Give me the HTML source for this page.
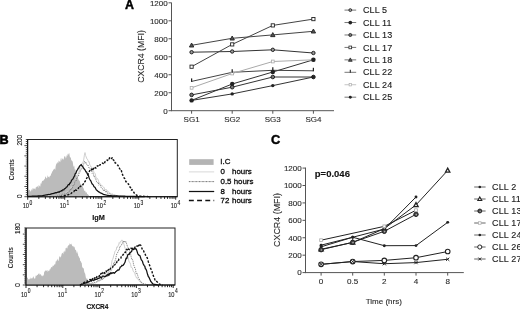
<!DOCTYPE html>
<html><head><meta charset="utf-8"><style>
html,body{margin:0;padding:0;background:#fff;}
body{width:520px;height:309px;overflow:hidden;}
svg{display:block;font-family:"Liberation Sans", sans-serif;will-change:transform;}
text{stroke:#111;stroke-width:0.12px;}
</style></head><body>
<svg width="520" height="309" viewBox="0 0 520 309">
<rect width="520" height="309" fill="#fff"/>
<text x="125.0" y="8.9" font-size="12.4" text-anchor="start" font-weight="bold" fill="#000" style="stroke:#000;stroke-width:0.45px">A</text>
<line x1="171.5" y1="2.6" x2="171.5" y2="111.2" stroke="#555" stroke-width="1" />
<line x1="171.5" y1="110.7" x2="334" y2="110.7" stroke="#555" stroke-width="1" />
<line x1="168.5" y1="110.7" x2="171.5" y2="110.7" stroke="#555" stroke-width="1" />
<text x="167.7" y="113.55" font-size="8.0" text-anchor="end" font-weight="normal" fill="#333" >0</text>
<line x1="168.5" y1="92.72" x2="171.5" y2="92.72" stroke="#555" stroke-width="1" />
<text x="167.7" y="95.57" font-size="8.0" text-anchor="end" font-weight="normal" fill="#333" >200</text>
<line x1="168.5" y1="74.74000000000001" x2="171.5" y2="74.74000000000001" stroke="#555" stroke-width="1" />
<text x="167.7" y="77.59" font-size="8.0" text-anchor="end" font-weight="normal" fill="#333" >400</text>
<line x1="168.5" y1="56.760000000000005" x2="171.5" y2="56.760000000000005" stroke="#555" stroke-width="1" />
<text x="167.7" y="59.61000000000001" font-size="8.0" text-anchor="end" font-weight="normal" fill="#333" >600</text>
<line x1="168.5" y1="38.78" x2="171.5" y2="38.78" stroke="#555" stroke-width="1" />
<text x="167.7" y="41.63" font-size="8.0" text-anchor="end" font-weight="normal" fill="#333" >800</text>
<line x1="168.5" y1="20.80000000000001" x2="171.5" y2="20.80000000000001" stroke="#555" stroke-width="1" />
<text x="167.7" y="23.650000000000013" font-size="8.0" text-anchor="end" font-weight="normal" fill="#333" >1000</text>
<line x1="168.5" y1="2.8200000000000074" x2="171.5" y2="2.8200000000000074" stroke="#555" stroke-width="1" />
<text x="167.7" y="5.670000000000007" font-size="8.0" text-anchor="end" font-weight="normal" fill="#333" >1200</text>
<line x1="191.6" y1="110.7" x2="191.6" y2="113.7" stroke="#555" stroke-width="1" />
<text x="191.6" y="121.9" font-size="8.0" text-anchor="middle" font-weight="normal" fill="#333" >SG1</text>
<line x1="232.2" y1="110.7" x2="232.2" y2="113.7" stroke="#555" stroke-width="1" />
<text x="232.2" y="121.9" font-size="8.0" text-anchor="middle" font-weight="normal" fill="#333" >SG2</text>
<line x1="272.8" y1="110.7" x2="272.8" y2="113.7" stroke="#555" stroke-width="1" />
<text x="272.8" y="121.9" font-size="8.0" text-anchor="middle" font-weight="normal" fill="#333" >SG3</text>
<line x1="313.4" y1="110.7" x2="313.4" y2="113.7" stroke="#555" stroke-width="1" />
<text x="313.4" y="121.9" font-size="8.0" text-anchor="middle" font-weight="normal" fill="#333" >SG4</text>
<text x="0" y="0" font-size="8.7" text-anchor="middle" font-weight="normal" fill="#333" transform="translate(144.0,56.5) rotate(-90)">CXCR4 (MFI)</text>
<polyline points="191.60,52.20 232.20,51.50 272.80,49.80 313.40,53.00" fill="none" stroke="#333" stroke-width="1.0" />
<polyline points="191.60,100.40 232.20,84.00 272.80,72.00 313.40,59.80" fill="none" stroke="#333" stroke-width="1.0" />
<polyline points="191.60,94.90 232.20,87.20 272.80,77.00 313.40,77.00" fill="none" stroke="#333" stroke-width="1.0" />
<polyline points="191.60,66.70 232.20,44.40 272.80,25.40 313.40,19.10" fill="none" stroke="#444" stroke-width="1.0" />
<polyline points="191.60,45.30 232.20,38.30 272.80,34.90 313.40,31.30" fill="none" stroke="#444" stroke-width="1.0" />
<polyline points="191.60,81.40 232.20,72.30 272.80,70.30 313.40,70.80" fill="none" stroke="#444" stroke-width="1.0" />
<polyline points="191.60,87.80 232.20,73.50 272.80,61.50 313.40,59.80" fill="none" stroke="#aaa" stroke-width="1.0" />
<polyline points="191.60,100.40 232.20,93.90 272.80,85.60 313.40,77.00" fill="none" stroke="#333" stroke-width="1.0" />
<rect x="190.2" y="86.39999999999999" width="2.8" height="2.8" fill="#fff" stroke="#aaa" stroke-width="0.8"/>
<rect x="230.79999999999998" y="72.1" width="2.8" height="2.8" fill="#fff" stroke="#aaa" stroke-width="0.8"/>
<rect x="271.40000000000003" y="60.1" width="2.8" height="2.8" fill="#fff" stroke="#aaa" stroke-width="0.8"/>
<rect x="312.0" y="58.4" width="2.8" height="2.8" fill="#fff" stroke="#aaa" stroke-width="0.8"/>
<circle cx="191.6" cy="52.2" r="1.7" fill="#999" stroke="#222" stroke-width="1.0"/>
<circle cx="232.2" cy="51.5" r="1.7" fill="#999" stroke="#222" stroke-width="1.0"/>
<circle cx="272.8" cy="49.8" r="1.7" fill="#999" stroke="#222" stroke-width="1.0"/>
<circle cx="313.4" cy="53.0" r="1.7" fill="#999" stroke="#222" stroke-width="1.0"/>
<circle cx="191.6" cy="100.4" r="2.2" fill="#222"/>
<circle cx="232.2" cy="84.0" r="2.2" fill="#222"/>
<circle cx="272.8" cy="72.0" r="2.2" fill="#222"/>
<circle cx="313.4" cy="59.8" r="2.2" fill="#222"/>
<circle cx="191.6" cy="94.9" r="1.8" fill="#777" stroke="#222" stroke-width="1.0"/>
<circle cx="232.2" cy="87.2" r="1.8" fill="#777" stroke="#222" stroke-width="1.0"/>
<circle cx="272.8" cy="77.0" r="1.8" fill="#777" stroke="#222" stroke-width="1.0"/>
<circle cx="313.4" cy="77.0" r="1.8" fill="#777" stroke="#222" stroke-width="1.0"/>
<rect x="190.0" y="65.10000000000001" width="3.2" height="3.2" fill="#fff" stroke="#222" stroke-width="0.9"/>
<rect x="230.6" y="42.8" width="3.2" height="3.2" fill="#fff" stroke="#222" stroke-width="0.9"/>
<rect x="271.2" y="23.799999999999997" width="3.2" height="3.2" fill="#fff" stroke="#222" stroke-width="0.9"/>
<rect x="311.79999999999995" y="17.5" width="3.2" height="3.2" fill="#fff" stroke="#222" stroke-width="0.9"/>
<path d="M191.6,43.0 L193.785,47.025 L189.415,47.025 Z" fill="#555" stroke="#222" stroke-width="0.9"/>
<path d="M232.2,36.0 L234.385,40.025 L230.015,40.025 Z" fill="#555" stroke="#222" stroke-width="0.9"/>
<path d="M272.8,32.6 L274.985,36.625 L270.615,36.625 Z" fill="#555" stroke="#222" stroke-width="0.9"/>
<path d="M313.4,29.0 L315.585,33.025 L311.215,33.025 Z" fill="#555" stroke="#222" stroke-width="0.9"/>
<line x1="191.6" y1="78.4" x2="191.6" y2="81.9" stroke="#222" stroke-width="1.25"/>
<line x1="232.2" y1="69.3" x2="232.2" y2="72.8" stroke="#222" stroke-width="1.25"/>
<line x1="272.8" y1="67.3" x2="272.8" y2="70.8" stroke="#222" stroke-width="1.25"/>
<line x1="313.4" y1="67.8" x2="313.4" y2="71.3" stroke="#222" stroke-width="1.25"/>
<circle cx="191.6" cy="100.4" r="1.7" fill="#222"/>
<circle cx="232.2" cy="93.9" r="1.7" fill="#222"/>
<circle cx="272.8" cy="85.6" r="1.7" fill="#222"/>
<circle cx="313.4" cy="77.0" r="1.7" fill="#222"/>
<line x1="344.5" y1="10.1" x2="356.2" y2="10.1" stroke="#777" stroke-width="1" />
<circle cx="350.3" cy="10.1" r="1.4449999999999998" fill="#999" stroke="#222" stroke-width="0.85"/>
<text x="363" y="13.2" font-size="9.0" text-anchor="start" font-weight="normal" fill="#222" letter-spacing="0.1">CLL 5</text>
<line x1="344.5" y1="22.54" x2="356.2" y2="22.54" stroke="#777" stroke-width="1" />
<circle cx="350.3" cy="22.54" r="1.87" fill="#222"/>
<text x="363" y="25.64" font-size="9.0" text-anchor="start" font-weight="normal" fill="#222" letter-spacing="0.1">CLL 11</text>
<line x1="344.5" y1="34.98" x2="356.2" y2="34.98" stroke="#777" stroke-width="1" />
<circle cx="350.3" cy="34.98" r="1.53" fill="#777" stroke="#222" stroke-width="0.85"/>
<text x="363" y="38.08" font-size="9.0" text-anchor="start" font-weight="normal" fill="#222" letter-spacing="0.1">CLL 13</text>
<line x1="344.5" y1="47.42" x2="356.2" y2="47.42" stroke="#777" stroke-width="1" />
<rect x="348.94" y="46.06" width="2.72" height="2.72" fill="#fff" stroke="#222" stroke-width="0.765"/>
<text x="363" y="50.52" font-size="9.0" text-anchor="start" font-weight="normal" fill="#222" letter-spacing="0.1">CLL 17</text>
<line x1="344.5" y1="59.86" x2="356.2" y2="59.86" stroke="#777" stroke-width="1" />
<path d="M350.3,57.905 L352.15725000000003,61.32625 L348.44275,61.32625 Z" fill="#555" stroke="#222" stroke-width="0.765"/>
<text x="363" y="62.96" font-size="9.0" text-anchor="start" font-weight="normal" fill="#222" letter-spacing="0.1">CLL 18</text>
<line x1="344.5" y1="72.3" x2="356.2" y2="72.3" stroke="#777" stroke-width="1" />
<line x1="350.3" y1="69.75" x2="350.3" y2="72.725" stroke="#222" stroke-width="1.0625"/>
<text x="363" y="75.39999999999999" font-size="9.0" text-anchor="start" font-weight="normal" fill="#222" letter-spacing="0.1">CLL 22</text>
<line x1="344.5" y1="84.74" x2="356.2" y2="84.74" stroke="#c4c4c4" stroke-width="1" />
<rect x="349.11" y="83.55" width="2.38" height="2.38" fill="#fff" stroke="#aaa" stroke-width="0.68"/>
<text x="363" y="87.83999999999999" font-size="9.0" text-anchor="start" font-weight="normal" fill="#222" letter-spacing="0.1">CLL 24</text>
<line x1="344.5" y1="97.17999999999999" x2="356.2" y2="97.17999999999999" stroke="#777" stroke-width="1" />
<circle cx="350.3" cy="97.17999999999999" r="1.4449999999999998" fill="#222"/>
<text x="363" y="100.27999999999999" font-size="9.0" text-anchor="start" font-weight="normal" fill="#222" letter-spacing="0.1">CLL 25</text>
<text x="-0.6" y="143.7" font-size="12.6" text-anchor="start" font-weight="bold" fill="#000" style="stroke:#000;stroke-width:0.6px">B</text>
<rect x="27.6" y="139.5" width="149.70000000000002" height="57.19999999999999" fill="none" stroke="#222" stroke-width="1"/>
<path d="M27.70,191.23 L28.20,190.18 L28.70,190.65 L29.20,189.81 L29.70,189.65 L30.20,191.44 L30.70,191.56 L31.20,188.66 L31.70,190.57 L32.20,190.59 L32.70,187.80 L33.20,189.56 L33.70,187.94 L34.20,189.04 L34.70,188.14 L35.20,189.85 L35.70,187.66 L36.20,186.48 L36.70,187.61 L37.20,186.35 L37.70,186.24 L38.20,188.28 L38.70,185.11 L39.20,185.39 L39.70,186.16 L40.20,186.85 L40.70,182.95 L41.20,183.91 L41.70,182.32 L42.20,181.07 L42.70,181.12 L43.20,179.69 L43.70,181.19 L44.20,178.90 L44.70,179.58 L45.20,176.88 L45.70,176.37 L46.20,178.75 L46.70,177.86 L47.20,177.71 L47.70,174.89 L48.20,177.18 L48.70,176.59 L49.20,177.71 L49.70,176.18 L50.20,175.97 L50.70,175.40 L51.20,173.76 L51.70,173.14 L52.20,171.24 L52.70,171.51 L53.20,169.90 L53.70,169.57 L54.20,168.41 L54.70,169.06 L55.20,170.09 L55.70,166.04 L56.20,164.37 L56.70,163.35 L57.20,163.43 L57.70,161.76 L58.20,163.34 L58.70,160.44 L59.20,161.04 L59.70,161.77 L60.20,162.23 L60.70,158.72 L61.20,157.84 L61.70,161.11 L62.20,157.93 L62.70,159.16 L63.20,159.85 L63.70,158.90 L64.20,156.62 L64.70,155.83 L65.20,158.77 L65.70,156.12 L66.20,158.02 L66.70,154.98 L67.20,156.32 L67.70,153.90 L68.20,153.29 L68.70,154.98 L69.20,152.79 L69.70,156.02 L70.20,157.88 L70.70,156.72 L71.20,159.92 L71.70,160.42 L72.20,161.10 L72.70,161.81 L73.20,165.15 L73.70,167.12 L74.20,165.54 L74.70,169.62 L75.20,168.89 L75.70,171.00 L76.20,174.69 L76.70,175.61 L77.20,176.62 L77.70,177.37 L78.20,178.82 L78.70,180.04 L79.20,180.76 L79.70,180.44 L80.20,183.13 L80.70,184.40 L81.20,184.12 L81.70,186.80 L82.20,187.30 L82.70,185.34 L83.20,187.92 L83.70,188.56 L84.20,191.24 L84.70,190.46 L85.20,190.65 L85.70,192.81 L86.20,192.02 L86.70,192.70 L87.20,194.26 L87.70,194.04 L88.20,194.86 L88.70,195.28 L89.20,195.96 L89.70,196.40 L89.70,196.7 L27.70,196.7 Z" fill="#bbbbbb" stroke="none" stroke-width="1" stroke-linejoin="round"/>
<path d="M55.00,196.70 L55.60,196.53 L56.20,196.36 L56.80,196.23 L57.40,196.10 L58.00,195.87 L58.60,195.78 L59.20,195.66 L59.80,195.37 L60.40,194.96 L61.00,194.82 L61.60,194.66 L62.20,194.78 L62.80,194.27 L63.40,194.19 L64.00,194.01 L64.60,193.81 L65.20,193.42 L65.80,192.28 L66.40,192.07 L67.00,191.77 L67.60,191.45 L68.20,191.95 L68.80,191.06 L69.40,189.68 L70.00,188.66 L70.60,187.56 L71.20,186.75 L71.80,187.98 L72.40,185.64 L73.00,184.27 L73.60,183.49 L74.20,183.11 L74.80,181.17 L75.40,180.93 L76.00,177.61 L76.60,176.44 L77.20,175.88 L77.80,175.15 L78.40,172.28 L79.00,171.77 L79.60,169.64 L80.20,168.30 L80.80,167.55 L81.40,166.18 L82.00,164.12 L82.60,162.94 L83.20,161.78 L83.80,159.11 L84.40,155.17 L85.00,152.59 L85.60,155.58 L86.20,156.88 L86.80,158.75 L87.40,159.11 L88.00,160.42 L88.60,162.05 L89.20,161.72 L89.80,165.03 L90.40,165.58 L91.00,167.09 L91.60,167.01 L92.20,168.97 L92.80,169.99 L93.40,170.24 L94.00,172.52 L94.60,173.15 L95.20,173.51 L95.80,176.74 L96.40,178.06 L97.00,178.87 L97.60,178.62 L98.20,179.95 L98.80,181.86 L99.40,182.59 L100.00,183.94 L100.60,184.19 L101.20,186.20 L101.80,185.52 L102.40,185.99 L103.00,186.49 L103.60,187.54 L104.20,187.48 L104.80,190.26 L105.40,190.09 L106.00,189.16 L106.60,190.09 L107.20,191.27 L107.80,190.90 L108.40,191.93 L109.00,192.19 L109.60,193.11 L110.20,193.47 L110.80,193.44 L111.40,193.99 L112.00,194.00 L112.60,193.79 L113.20,194.54 L113.80,194.99 L114.40,195.19 L115.00,195.35 L115.60,195.16 L116.20,195.44 L116.80,195.55 L117.40,195.70 L118.00,195.49 L118.60,195.76 L119.20,195.91 L119.80,196.03 L120.40,196.11 L121.00,196.16 L121.60,196.16 L122.20,196.28 L122.80,196.37 L123.40,196.46 L124.00,196.55 L124.60,196.64" fill="none" stroke="#cfcfcf" stroke-width="1" stroke-linejoin="round"/>
<path d="M55.00,196.70 L55.60,196.53 L56.20,196.36 L56.80,196.17 L57.40,195.96 L58.00,195.76 L58.60,195.53 L59.20,195.41 L59.80,195.15 L60.40,195.38 L61.00,195.00 L61.60,194.55 L62.20,194.54 L62.80,194.15 L63.40,194.53 L64.00,194.06 L64.60,194.06 L65.20,193.59 L65.80,193.36 L66.40,193.76 L67.00,193.36 L67.60,193.10 L68.20,191.90 L68.80,191.28 L69.40,191.56 L70.00,189.60 L70.60,190.27 L71.20,188.41 L71.80,188.88 L72.40,188.25 L73.00,185.02 L73.60,185.63 L74.20,184.56 L74.80,181.59 L75.40,180.82 L76.00,181.23 L76.60,178.35 L77.20,178.20 L77.80,176.66 L78.40,176.64 L79.00,173.60 L79.60,173.02 L80.20,171.05 L80.80,169.80 L81.40,169.84 L82.00,168.25 L82.60,167.24 L83.20,165.49 L83.80,163.89 L84.40,161.50 L85.00,161.19 L85.60,163.59 L86.20,162.81 L86.80,164.56 L87.40,165.53 L88.00,165.15 L88.60,166.89 L89.20,168.16 L89.80,168.60 L90.40,168.90 L91.00,171.38 L91.60,169.94 L92.20,173.29 L92.80,172.68 L93.40,173.64 L94.00,176.90 L94.60,176.18 L95.20,178.38 L95.80,178.90 L96.40,181.38 L97.00,182.33 L97.60,183.05 L98.20,182.16 L98.80,185.11 L99.40,184.54 L100.00,184.83 L100.60,185.51 L101.20,187.73 L101.80,188.42 L102.40,188.72 L103.00,188.88 L103.60,191.01 L104.20,190.36 L104.80,190.65 L105.40,190.93 L106.00,192.57 L106.60,191.59 L107.20,193.09 L107.80,193.10 L108.40,193.15 L109.00,193.21 L109.60,194.10 L110.20,193.93 L110.80,194.37 L111.40,194.68 L112.00,194.81 L112.60,195.04 L113.20,195.22 L113.80,195.32 L114.40,195.22 L115.00,195.26 L115.60,195.72 L116.20,195.88 L116.80,195.78 L117.40,196.04 L118.00,196.21 L118.60,196.24 L119.20,196.29 L119.80,196.33 L120.40,196.37 L121.00,196.41 L121.60,196.46 L122.20,196.50 L122.80,196.54 L123.40,196.59 L124.00,196.63 L124.60,196.67" fill="none" stroke="#666" stroke-width="0.9" stroke-dasharray="1,1" stroke-linejoin="round"/>
<path d="M27.80,196.40 L28.40,196.37 L29.00,196.35 L29.60,196.32 L30.20,196.30 L30.80,196.27 L31.40,196.25 L32.00,196.22 L32.60,196.18 L33.20,196.15 L33.80,196.15 L34.40,196.14 L35.00,196.14 L35.60,196.06 L36.20,196.05 L36.80,196.00 L37.40,196.01 L38.00,195.94 L38.60,195.97 L39.20,195.89 L39.80,195.87 L40.40,195.88 L41.00,195.84 L41.60,195.80 L42.20,195.82 L42.80,195.65 L43.40,195.49 L44.00,195.47 L44.60,195.24 L45.20,195.14 L45.80,194.98 L46.40,194.99 L47.00,194.94 L47.60,194.62 L48.20,194.50 L48.80,194.49 L49.40,194.50 L50.00,194.35 L50.60,194.07 L51.20,194.08 L51.80,193.66 L52.40,193.66 L53.00,193.70 L53.60,193.33 L54.20,193.33 L54.80,192.88 L55.40,192.73 L56.00,192.81 L56.60,192.58 L57.20,192.40 L57.80,192.17 L58.40,191.90 L59.00,192.29 L59.60,191.76 L60.20,191.27 L60.80,191.22 L61.40,190.67 L62.00,190.83 L62.60,189.78 L63.20,189.82 L63.80,189.96 L64.40,188.81 L65.00,188.63 L65.60,188.16 L66.20,187.22 L66.80,187.03 L67.40,186.35 L68.00,184.96 L68.60,184.56 L69.20,184.78 L69.80,183.07 L70.40,183.08 L71.00,181.80 L71.60,180.21 L72.20,179.66 L72.80,179.13 L73.40,177.94 L74.00,176.71 L74.60,175.80 L75.20,173.54 L75.80,173.46 L76.40,171.80 L77.00,170.36 L77.60,169.82 L78.20,168.15 L78.80,168.07 L79.40,166.22 L80.00,165.70 L80.60,165.33 L81.20,164.43 L81.80,165.79 L82.40,166.15 L83.00,167.01 L83.60,168.17 L84.20,169.03 L84.80,169.55 L85.40,170.71 L86.00,171.90 L86.60,171.90 L87.20,173.70 L87.80,174.66 L88.40,175.53 L89.00,177.48 L89.60,178.92 L90.20,180.08 L90.80,180.81 L91.40,182.37 L92.00,183.78 L92.60,184.46 L93.20,184.74 L93.80,186.39 L94.40,187.05 L95.00,187.33 L95.60,188.50 L96.20,189.73 L96.80,190.16 L97.40,190.64 L98.00,191.40 L98.60,191.67 L99.20,192.20 L99.80,192.35 L100.40,193.00 L101.00,193.12 L101.60,193.27 L102.20,193.62 L102.80,194.15 L103.40,194.28 L104.00,194.56 L104.60,194.71 L105.20,194.86 L105.80,194.97 L106.40,195.04 L107.00,195.26 L107.60,195.39 L108.20,195.37 L108.80,195.51 L109.40,195.58 L110.00,195.52 L110.60,195.70 L111.20,195.67 L111.80,195.80 L112.40,195.76 L113.00,195.79 L113.60,195.91 L114.20,195.91 L114.80,195.84 L115.40,195.90 L116.00,195.94 L116.60,195.92 L117.20,195.94 L117.80,195.99 L118.40,196.02 L119.00,196.07 L119.60,196.07 L120.20,196.11 L120.80,196.08 L121.40,196.10 L122.00,196.16 L122.60,196.14 L123.20,196.21 L123.80,196.22 L124.40,196.21 L125.00,196.23 L125.60,196.25 L126.20,196.27 L126.80,196.29 L127.40,196.31 L128.00,196.33 L128.60,196.35 L129.20,196.37 L129.80,196.39 L130.40,196.41 L131.00,196.42 L131.60,196.43 L132.20,196.44 L132.80,196.46 L133.40,196.47 L134.00,196.48 L134.60,196.49 L135.20,196.50 L135.80,196.52 L136.40,196.53 L137.00,196.54 L137.60,196.55 L138.20,196.56 L138.80,196.58 L139.40,196.59 L140.00,196.60 L140.60,196.61 L141.20,196.62 L141.80,196.64 L142.40,196.65 L143.00,196.66 L143.60,196.67 L144.20,196.68 L144.80,196.70" fill="none" stroke="#111" stroke-width="1.25" stroke-linejoin="round"/>
<path d="M60.00,196.70 L60.60,196.56 L61.20,196.42 L61.80,196.27 L62.40,196.16 L63.00,196.05 L63.60,195.82 L64.20,195.81 L64.80,195.55 L65.40,195.46 L66.00,195.44 L66.60,195.13 L67.20,195.19 L67.80,194.83 L68.40,194.74 L69.00,194.46 L69.60,193.95 L70.20,193.35 L70.80,193.62 L71.40,193.26 L72.00,192.57 L72.60,191.92 L73.20,191.98 L73.80,191.80 L74.40,190.62 L75.00,191.53 L75.60,189.91 L76.20,190.42 L76.80,190.29 L77.40,189.98 L78.00,189.24 L78.60,187.76 L79.20,188.42 L79.80,187.00 L80.40,186.27 L81.00,186.18 L81.60,185.22 L82.20,185.53 L82.80,184.81 L83.40,183.79 L84.00,182.11 L84.60,181.88 L85.20,181.38 L85.80,179.99 L86.40,178.85 L87.00,177.75 L87.60,175.35 L88.20,174.05 L88.80,173.46 L89.40,171.30 L90.00,170.10 L90.60,169.10 L91.20,169.09 L91.80,169.67 L92.40,167.99 L93.00,169.41 L93.60,168.51 L94.20,167.54 L94.80,168.45 L95.40,167.49 L96.00,168.09 L96.60,166.54 L97.20,166.06 L97.80,166.15 L98.40,165.25 L99.00,166.07 L99.60,165.01 L100.20,164.91 L100.80,164.64 L101.40,164.59 L102.00,163.52 L102.60,163.01 L103.20,163.51 L103.80,162.68 L104.40,163.44 L105.00,161.71 L105.60,161.37 L106.20,160.23 L106.80,160.13 L107.40,160.51 L108.00,159.57 L108.60,158.26 L109.20,158.81 L109.80,157.19 L110.40,157.25 L111.00,157.90 L111.60,158.55 L112.20,157.67 L112.80,159.49 L113.40,159.86 L114.00,160.50 L114.60,160.46 L115.20,162.97 L115.80,163.16 L116.40,163.88 L117.00,164.10 L117.60,165.02 L118.20,165.72 L118.80,167.68 L119.40,168.20 L120.00,169.10 L120.60,168.84 L121.20,169.48 L121.80,172.66 L122.40,174.18 L123.00,175.63 L123.60,177.19 L124.20,178.05 L124.80,178.80 L125.40,180.41 L126.00,181.89 L126.60,182.02 L127.20,183.08 L127.80,183.65 L128.40,183.83 L129.00,185.32 L129.60,186.57 L130.20,187.26 L130.80,188.05 L131.40,190.13 L132.00,189.55 L132.60,190.71 L133.20,191.47 L133.80,192.24 L134.40,193.29 L135.00,193.91 L135.60,194.69 L136.20,194.90 L136.80,195.31 L137.40,195.47 L138.00,195.59 L138.60,195.77 L139.20,195.89 L139.80,196.11 L140.40,196.20 L141.00,196.21 L141.60,196.25 L142.20,196.23 L142.80,196.27 L143.40,196.30 L144.00,196.34 L144.60,196.38 L145.20,196.41 L145.80,196.45 L146.40,196.48 L147.00,196.52 L147.60,196.56 L148.20,196.59 L148.80,196.63 L149.40,196.66 L150.00,196.70" fill="none" stroke="#111" stroke-width="1.4" stroke-dasharray="2.2,1.6" stroke-linejoin="round"/>
<line x1="27.6" y1="139.5" x2="27.6" y2="196.7" stroke="#111" stroke-width="1.1" />
<line x1="27.6" y1="196.7" x2="177.3" y2="196.7" stroke="#111" stroke-width="1.1" />
<line x1="24.400000000000002" y1="196.7" x2="27.6" y2="196.7" stroke="#222" stroke-width="0.8" />
<line x1="25.8" y1="194.65714285714284" x2="27.6" y2="194.65714285714284" stroke="#222" stroke-width="0.8" />
<line x1="25.8" y1="192.6142857142857" x2="27.6" y2="192.6142857142857" stroke="#222" stroke-width="0.8" />
<line x1="25.8" y1="190.57142857142856" x2="27.6" y2="190.57142857142856" stroke="#222" stroke-width="0.8" />
<line x1="25.8" y1="188.5285714285714" x2="27.6" y2="188.5285714285714" stroke="#222" stroke-width="0.8" />
<line x1="24.400000000000002" y1="186.48571428571427" x2="27.6" y2="186.48571428571427" stroke="#222" stroke-width="0.8" />
<line x1="25.8" y1="184.44285714285712" x2="27.6" y2="184.44285714285712" stroke="#222" stroke-width="0.8" />
<line x1="25.8" y1="182.39999999999998" x2="27.6" y2="182.39999999999998" stroke="#222" stroke-width="0.8" />
<line x1="25.8" y1="180.35714285714286" x2="27.6" y2="180.35714285714286" stroke="#222" stroke-width="0.8" />
<line x1="25.8" y1="178.31428571428572" x2="27.6" y2="178.31428571428572" stroke="#222" stroke-width="0.8" />
<line x1="24.400000000000002" y1="176.27142857142857" x2="27.6" y2="176.27142857142857" stroke="#222" stroke-width="0.8" />
<line x1="25.8" y1="174.22857142857143" x2="27.6" y2="174.22857142857143" stroke="#222" stroke-width="0.8" />
<line x1="25.8" y1="172.18571428571428" x2="27.6" y2="172.18571428571428" stroke="#222" stroke-width="0.8" />
<line x1="25.8" y1="170.14285714285714" x2="27.6" y2="170.14285714285714" stroke="#222" stroke-width="0.8" />
<line x1="25.8" y1="168.1" x2="27.6" y2="168.1" stroke="#222" stroke-width="0.8" />
<line x1="24.400000000000002" y1="166.05714285714285" x2="27.6" y2="166.05714285714285" stroke="#222" stroke-width="0.8" />
<line x1="25.8" y1="164.0142857142857" x2="27.6" y2="164.0142857142857" stroke="#222" stroke-width="0.8" />
<line x1="25.8" y1="161.97142857142856" x2="27.6" y2="161.97142857142856" stroke="#222" stroke-width="0.8" />
<line x1="25.8" y1="159.92857142857142" x2="27.6" y2="159.92857142857142" stroke="#222" stroke-width="0.8" />
<line x1="25.8" y1="157.8857142857143" x2="27.6" y2="157.8857142857143" stroke="#222" stroke-width="0.8" />
<line x1="24.400000000000002" y1="155.84285714285716" x2="27.6" y2="155.84285714285716" stroke="#222" stroke-width="0.8" />
<line x1="25.8" y1="153.8" x2="27.6" y2="153.8" stroke="#222" stroke-width="0.8" />
<line x1="25.8" y1="151.75714285714287" x2="27.6" y2="151.75714285714287" stroke="#222" stroke-width="0.8" />
<line x1="25.8" y1="149.71428571428572" x2="27.6" y2="149.71428571428572" stroke="#222" stroke-width="0.8" />
<line x1="25.8" y1="147.67142857142858" x2="27.6" y2="147.67142857142858" stroke="#222" stroke-width="0.8" />
<line x1="24.400000000000002" y1="145.62857142857143" x2="27.6" y2="145.62857142857143" stroke="#222" stroke-width="0.8" />
<line x1="25.8" y1="143.5857142857143" x2="27.6" y2="143.5857142857143" stroke="#222" stroke-width="0.8" />
<line x1="25.8" y1="141.54285714285714" x2="27.6" y2="141.54285714285714" stroke="#222" stroke-width="0.8" />
<line x1="25.8" y1="139.5" x2="27.6" y2="139.5" stroke="#222" stroke-width="0.8" />
<line x1="27.7" y1="196.7" x2="27.7" y2="199.7" stroke="#111" stroke-width="0.9" />
<line x1="38.8381098395673" y1="196.7" x2="38.8381098395673" y2="198.89999999999998" stroke="#111" stroke-width="0.9" />
<line x1="45.353486424627505" y1="196.7" x2="45.353486424627505" y2="198.89999999999998" stroke="#111" stroke-width="0.9" />
<line x1="49.97621967913461" y1="196.7" x2="49.97621967913461" y2="198.89999999999998" stroke="#111" stroke-width="0.9" />
<line x1="53.5618901604327" y1="196.7" x2="53.5618901604327" y2="198.89999999999998" stroke="#111" stroke-width="0.9" />
<line x1="56.49159626419481" y1="196.7" x2="56.49159626419481" y2="198.89999999999998" stroke="#111" stroke-width="0.9" />
<line x1="58.9686274805275" y1="196.7" x2="58.9686274805275" y2="198.89999999999998" stroke="#111" stroke-width="0.9" />
<line x1="61.11432951870191" y1="196.7" x2="61.11432951870191" y2="198.89999999999998" stroke="#111" stroke-width="0.9" />
<line x1="63.00697284925502" y1="196.7" x2="63.00697284925502" y2="198.89999999999998" stroke="#111" stroke-width="0.9" />
<line x1="64.7" y1="196.7" x2="64.7" y2="199.7" stroke="#111" stroke-width="0.9" />
<line x1="75.83810983956731" y1="196.7" x2="75.83810983956731" y2="198.89999999999998" stroke="#111" stroke-width="0.9" />
<line x1="82.3534864246275" y1="196.7" x2="82.3534864246275" y2="198.89999999999998" stroke="#111" stroke-width="0.9" />
<line x1="86.97621967913462" y1="196.7" x2="86.97621967913462" y2="198.89999999999998" stroke="#111" stroke-width="0.9" />
<line x1="90.5618901604327" y1="196.7" x2="90.5618901604327" y2="198.89999999999998" stroke="#111" stroke-width="0.9" />
<line x1="93.49159626419481" y1="196.7" x2="93.49159626419481" y2="198.89999999999998" stroke="#111" stroke-width="0.9" />
<line x1="95.9686274805275" y1="196.7" x2="95.9686274805275" y2="198.89999999999998" stroke="#111" stroke-width="0.9" />
<line x1="98.11432951870191" y1="196.7" x2="98.11432951870191" y2="198.89999999999998" stroke="#111" stroke-width="0.9" />
<line x1="100.00697284925502" y1="196.7" x2="100.00697284925502" y2="198.89999999999998" stroke="#111" stroke-width="0.9" />
<line x1="101.7" y1="196.7" x2="101.7" y2="199.7" stroke="#111" stroke-width="0.9" />
<line x1="112.83810983956731" y1="196.7" x2="112.83810983956731" y2="198.89999999999998" stroke="#111" stroke-width="0.9" />
<line x1="119.35348642462752" y1="196.7" x2="119.35348642462752" y2="198.89999999999998" stroke="#111" stroke-width="0.9" />
<line x1="123.97621967913462" y1="196.7" x2="123.97621967913462" y2="198.89999999999998" stroke="#111" stroke-width="0.9" />
<line x1="127.5618901604327" y1="196.7" x2="127.5618901604327" y2="198.89999999999998" stroke="#111" stroke-width="0.9" />
<line x1="130.4915962641948" y1="196.7" x2="130.4915962641948" y2="198.89999999999998" stroke="#111" stroke-width="0.9" />
<line x1="132.9686274805275" y1="196.7" x2="132.9686274805275" y2="198.89999999999998" stroke="#111" stroke-width="0.9" />
<line x1="135.1143295187019" y1="196.7" x2="135.1143295187019" y2="198.89999999999998" stroke="#111" stroke-width="0.9" />
<line x1="137.00697284925502" y1="196.7" x2="137.00697284925502" y2="198.89999999999998" stroke="#111" stroke-width="0.9" />
<line x1="138.7" y1="196.7" x2="138.7" y2="199.7" stroke="#111" stroke-width="0.9" />
<line x1="149.8381098395673" y1="196.7" x2="149.8381098395673" y2="198.89999999999998" stroke="#111" stroke-width="0.9" />
<line x1="156.3534864246275" y1="196.7" x2="156.3534864246275" y2="198.89999999999998" stroke="#111" stroke-width="0.9" />
<line x1="160.9762196791346" y1="196.7" x2="160.9762196791346" y2="198.89999999999998" stroke="#111" stroke-width="0.9" />
<line x1="164.56189016043268" y1="196.7" x2="164.56189016043268" y2="198.89999999999998" stroke="#111" stroke-width="0.9" />
<line x1="167.4915962641948" y1="196.7" x2="167.4915962641948" y2="198.89999999999998" stroke="#111" stroke-width="0.9" />
<line x1="169.9686274805275" y1="196.7" x2="169.9686274805275" y2="198.89999999999998" stroke="#111" stroke-width="0.9" />
<line x1="172.1143295187019" y1="196.7" x2="172.1143295187019" y2="198.89999999999998" stroke="#111" stroke-width="0.9" />
<line x1="174.006972849255" y1="196.7" x2="174.006972849255" y2="198.89999999999998" stroke="#111" stroke-width="0.9" />
<line x1="175.7" y1="196.7" x2="175.7" y2="199.7" stroke="#111" stroke-width="0.9" />
<text transform="translate(27.40,208.0) scale(0.76,1)" font-size="7.5" text-anchor="middle" fill="#222">10<tspan dx="0.6" dy="-3.25" font-size="6.5">0</tspan></text>
<text transform="translate(64.40,208.0) scale(0.76,1)" font-size="7.5" text-anchor="middle" fill="#222">10<tspan dx="0.6" dy="-3.25" font-size="6.5">1</tspan></text>
<text transform="translate(101.40,208.0) scale(0.76,1)" font-size="7.5" text-anchor="middle" fill="#222">10<tspan dx="0.6" dy="-3.25" font-size="6.5">2</tspan></text>
<text transform="translate(138.40,208.0) scale(0.76,1)" font-size="7.5" text-anchor="middle" fill="#222">10<tspan dx="0.6" dy="-3.25" font-size="6.5">3</tspan></text>
<text transform="translate(175.40,208.0) scale(0.76,1)" font-size="7.5" text-anchor="middle" fill="#222">10<tspan dx="0.6" dy="-3.25" font-size="6.5">4</tspan></text>
<text x="0" y="0" font-size="6.6" text-anchor="middle" font-weight="normal" fill="#222" transform="translate(14.2,169.7) rotate(-90)">Counts</text>
<text x="0" y="0" font-size="6.4" text-anchor="middle" font-weight="normal" fill="#222" transform="translate(22.0,140.2) rotate(-90)">200</text>
<text x="0" y="0" font-size="6.4" text-anchor="middle" font-weight="normal" fill="#222" transform="translate(22.0,196.3) rotate(-90)">0</text>
<text x="98.6" y="219.8" font-size="7.7" text-anchor="middle" font-weight="bold" fill="#111" textLength="12.6" lengthAdjust="spacingAndGlyphs">IgM</text>
<rect x="26.0" y="228.0" width="149.0" height="57.0" fill="none" stroke="#222" stroke-width="1"/>
<path d="M26.20,279.46 L26.70,278.02 L27.20,277.93 L27.70,277.29 L28.20,279.39 L28.70,279.17 L29.20,279.38 L29.70,279.03 L30.20,277.17 L30.70,279.22 L31.20,277.71 L31.70,278.77 L32.20,278.40 L32.70,277.82 L33.20,276.21 L33.70,276.99 L34.20,279.18 L34.70,278.10 L35.20,278.54 L35.70,275.59 L36.20,275.74 L36.70,275.68 L37.20,275.08 L37.70,274.88 L38.20,273.55 L38.70,273.65 L39.20,275.28 L39.70,272.91 L40.20,274.72 L40.70,273.99 L41.20,275.11 L41.70,276.00 L42.20,276.42 L42.70,275.53 L43.20,275.38 L43.70,275.54 L44.20,272.11 L44.70,271.57 L45.20,270.20 L45.70,270.76 L46.20,270.98 L46.70,269.96 L47.20,272.16 L47.70,269.74 L48.20,270.43 L48.70,271.24 L49.20,270.89 L49.70,269.13 L50.20,269.59 L50.70,268.14 L51.20,266.93 L51.70,267.14 L52.20,267.58 L52.70,265.51 L53.20,265.96 L53.70,265.46 L54.20,265.12 L54.70,263.93 L55.20,264.61 L55.70,261.80 L56.20,260.09 L56.70,261.84 L57.20,259.90 L57.70,258.42 L58.20,261.35 L58.70,260.33 L59.20,257.05 L59.70,256.30 L60.20,256.47 L60.70,257.76 L61.20,256.12 L61.70,253.68 L62.20,252.98 L62.70,252.69 L63.20,254.46 L63.70,251.24 L64.20,252.46 L64.70,250.34 L65.20,251.92 L65.70,247.84 L66.20,248.57 L66.70,247.35 L67.20,248.65 L67.70,246.30 L68.20,245.78 L68.70,245.07 L69.20,245.33 L69.70,243.19 L70.20,244.07 L70.70,244.32 L71.20,245.09 L71.70,243.26 L72.20,245.88 L72.70,246.10 L73.20,247.39 L73.70,245.76 L74.20,246.78 L74.70,247.49 L75.20,250.33 L75.70,249.57 L76.20,250.81 L76.70,252.67 L77.20,253.88 L77.70,250.92 L78.20,255.71 L78.70,256.28 L79.20,257.70 L79.70,257.67 L80.20,261.03 L80.70,260.94 L81.20,262.87 L81.70,262.51 L82.20,267.35 L82.70,267.55 L83.20,268.42 L83.70,268.05 L84.20,271.38 L84.70,273.07 L85.20,273.80 L85.70,276.81 L86.20,279.01 L86.70,278.37 L87.20,278.44 L87.70,280.23 L88.20,282.30 L88.70,282.63 L89.20,283.30 L89.70,284.36 L90.20,285.00 L90.20,285.0 L26.20,285.0 Z" fill="#bbbbbb" stroke="none" stroke-width="1" stroke-linejoin="round"/>
<path d="M85.00,285.00 L85.60,284.88 L86.20,284.76 L86.80,284.64 L87.40,284.52 L88.00,284.47 L88.60,284.23 L89.20,284.12 L89.80,283.91 L90.40,284.00 L91.00,283.89 L91.60,283.58 L92.20,283.49 L92.80,283.54 L93.40,283.22 L94.00,283.26 L94.60,282.91 L95.20,283.15 L95.80,282.81 L96.40,281.96 L97.00,282.13 L97.60,281.95 L98.20,281.06 L98.80,280.94 L99.40,281.26 L100.00,280.43 L100.60,279.80 L101.20,280.17 L101.80,278.87 L102.40,279.44 L103.00,278.59 L103.60,278.74 L104.20,278.06 L104.80,275.53 L105.40,276.26 L106.00,274.08 L106.60,274.75 L107.20,273.62 L107.80,272.24 L108.40,272.00 L109.00,272.73 L109.60,270.09 L110.20,267.80 L110.80,266.76 L111.40,264.80 L112.00,260.68 L112.60,259.40 L113.20,258.03 L113.80,255.21 L114.40,254.01 L115.00,251.18 L115.60,250.54 L116.20,250.15 L116.80,246.97 L117.40,247.41 L118.00,245.55 L118.60,245.30 L119.20,242.63 L119.80,243.32 L120.40,241.41 L121.00,241.61 L121.60,240.17 L122.20,240.04 L122.80,240.79 L123.40,242.52 L124.00,244.55 L124.60,246.78 L125.20,248.49 L125.80,251.85 L126.40,253.01 L127.00,255.49 L127.60,255.57 L128.20,257.04 L128.80,260.87 L129.40,262.33 L130.00,262.58 L130.60,264.57 L131.20,267.60 L131.80,267.38 L132.40,267.97 L133.00,270.46 L133.60,271.84 L134.20,272.47 L134.80,272.74 L135.40,275.61 L136.00,276.70 L136.60,278.07 L137.20,277.77 L137.80,278.83 L138.40,279.92 L139.00,280.39 L139.60,281.54 L140.20,281.87 L140.80,282.00 L141.40,282.99 L142.00,283.41 L142.60,283.36 L143.20,283.86 L143.80,284.14 L144.40,284.42 L145.00,284.57 L145.60,284.83" fill="none" stroke="#cfcfcf" stroke-width="1" stroke-linejoin="round"/>
<path d="M85.00,285.00 L85.60,284.85 L86.20,284.70 L86.80,284.55 L87.40,284.31 L88.00,284.36 L88.60,284.03 L89.20,284.06 L89.80,283.62 L90.40,283.85 L91.00,283.32 L91.60,283.26 L92.20,283.00 L92.80,282.75 L93.40,283.07 L94.00,282.86 L94.60,282.44 L95.20,282.58 L95.80,282.31 L96.40,282.07 L97.00,281.11 L97.60,280.76 L98.20,280.52 L98.80,280.98 L99.40,279.68 L100.00,279.98 L100.60,280.09 L101.20,279.36 L101.80,279.07 L102.40,279.41 L103.00,278.06 L103.60,278.15 L104.20,277.32 L104.80,276.06 L105.40,276.27 L106.00,276.33 L106.60,274.65 L107.20,273.77 L107.80,274.50 L108.40,272.82 L109.00,274.59 L109.60,273.74 L110.20,273.12 L110.80,270.67 L111.40,270.32 L112.00,268.45 L112.60,267.73 L113.20,265.41 L113.80,262.63 L114.40,262.80 L115.00,260.96 L115.60,259.33 L116.20,256.48 L116.80,253.75 L117.40,252.96 L118.00,252.00 L118.60,250.39 L119.20,249.85 L119.80,246.58 L120.40,246.72 L121.00,245.66 L121.60,244.75 L122.20,242.74 L122.80,243.28 L123.40,241.08 L124.00,241.78 L124.60,240.79 L125.20,242.29 L125.80,241.44 L126.40,242.96 L127.00,245.00 L127.60,247.14 L128.20,247.61 L128.80,249.67 L129.40,250.27 L130.00,251.82 L130.60,254.05 L131.20,256.95 L131.80,259.39 L132.40,259.20 L133.00,261.01 L133.60,264.92 L134.20,266.00 L134.80,267.99 L135.40,268.69 L136.00,272.60 L136.60,274.06 L137.20,273.61 L137.80,275.81 L138.40,277.58 L139.00,278.47 L139.60,280.05 L140.20,280.52 L140.80,281.64 L141.40,282.34 L142.00,282.91 L142.60,283.21 L143.20,283.49 L143.80,283.79 L144.40,283.97 L145.00,284.07 L145.60,284.23 L146.20,284.44 L146.80,284.64 L147.40,284.82 L148.00,285.00" fill="none" stroke="#666" stroke-width="0.9" stroke-dasharray="1,1" stroke-linejoin="round"/>
<path d="M80.00,285.00 L80.60,284.77 L81.20,284.54 L81.80,284.34 L82.40,284.09 L83.00,283.88 L83.60,283.65 L84.20,283.44 L84.80,283.10 L85.40,283.08 L86.00,282.66 L86.60,282.83 L87.20,282.44 L87.80,282.21 L88.40,282.15 L89.00,281.45 L89.60,281.61 L90.20,280.95 L90.80,280.55 L91.40,281.05 L92.00,280.14 L92.60,280.00 L93.20,279.94 L93.80,280.52 L94.40,279.77 L95.00,279.32 L95.60,279.58 L96.20,279.50 L96.80,279.18 L97.40,279.06 L98.00,278.01 L98.60,278.53 L99.20,278.20 L99.80,277.61 L100.40,276.84 L101.00,277.85 L101.60,278.14 L102.20,276.11 L102.80,276.18 L103.40,276.06 L104.00,276.39 L104.60,276.75 L105.20,276.67 L105.80,276.13 L106.40,275.57 L107.00,276.12 L107.60,274.61 L108.20,274.32 L108.80,275.50 L109.40,273.60 L110.00,274.07 L110.60,272.97 L111.20,273.62 L111.80,272.73 L112.40,273.17 L113.00,272.62 L113.60,272.60 L114.20,273.30 L114.80,272.70 L115.40,272.17 L116.00,271.46 L116.60,271.18 L117.20,270.49 L117.80,269.89 L118.40,270.06 L119.00,269.86 L119.60,268.75 L120.20,267.14 L120.80,266.76 L121.40,266.29 L122.00,265.24 L122.60,265.69 L123.20,265.22 L123.80,264.51 L124.40,263.26 L125.00,262.28 L125.60,259.85 L126.20,258.06 L126.80,258.47 L127.40,256.13 L128.00,254.60 L128.60,254.12 L129.20,254.51 L129.80,252.71 L130.40,252.64 L131.00,251.96 L131.60,251.47 L132.20,249.60 L132.80,248.19 L133.40,249.59 L134.00,249.27 L134.60,248.56 L135.20,249.04 L135.80,248.68 L136.40,249.37 L137.00,251.13 L137.60,253.19 L138.20,254.43 L138.80,255.20 L139.40,255.31 L140.00,255.84 L140.60,257.73 L141.20,259.58 L141.80,260.40 L142.40,261.12 L143.00,263.22 L143.60,264.70 L144.20,265.56 L144.80,266.24 L145.40,268.94 L146.00,269.14 L146.60,270.68 L147.20,273.11 L147.80,275.08 L148.40,276.70 L149.00,277.31 L149.60,278.69 L150.20,280.04 L150.80,281.49 L151.40,282.03 L152.00,283.00 L152.60,283.57 L153.20,284.09 L153.80,284.24 L154.40,284.36 L155.00,284.33 L155.60,284.52 L156.20,284.64 L156.80,284.76 L157.40,284.88 L158.00,285.00" fill="none" stroke="#111" stroke-width="1.25" stroke-linejoin="round"/>
<path d="M80.00,285.00 L80.60,284.65 L81.20,284.30 L81.80,283.88 L82.40,283.45 L83.00,283.35 L83.60,282.77 L84.20,282.44 L84.80,282.10 L85.40,282.24 L86.00,282.09 L86.60,281.56 L87.20,280.98 L87.80,281.22 L88.40,280.73 L89.00,280.70 L89.60,279.84 L90.20,279.45 L90.80,279.90 L91.40,278.84 L92.00,279.91 L92.60,278.58 L93.20,278.22 L93.80,279.12 L94.40,277.98 L95.00,277.92 L95.60,276.83 L96.20,277.86 L96.80,276.86 L97.40,275.82 L98.00,275.95 L98.60,276.25 L99.20,276.35 L99.80,274.27 L100.40,274.84 L101.00,273.44 L101.60,274.79 L102.20,273.09 L102.80,272.73 L103.40,272.16 L104.00,273.60 L104.60,272.56 L105.20,272.90 L105.80,271.20 L106.40,271.69 L107.00,270.18 L107.60,271.05 L108.20,269.95 L108.80,269.46 L109.40,270.42 L110.00,269.49 L110.60,268.19 L111.20,268.45 L111.80,268.18 L112.40,267.77 L113.00,266.13 L113.60,266.71 L114.20,265.29 L114.80,264.79 L115.40,264.19 L116.00,264.44 L116.60,262.59 L117.20,261.28 L117.80,261.68 L118.40,260.86 L119.00,258.92 L119.60,258.78 L120.20,258.60 L120.80,258.33 L121.40,256.05 L122.00,256.08 L122.60,255.12 L123.20,254.78 L123.80,253.34 L124.40,252.42 L125.00,252.53 L125.60,252.28 L126.20,249.73 L126.80,249.24 L127.40,250.77 L128.00,249.44 L128.60,248.95 L129.20,249.27 L129.80,248.37 L130.40,247.67 L131.00,248.16 L131.60,248.32 L132.20,248.59 L132.80,248.35 L133.40,248.43 L134.00,248.39 L134.60,248.06 L135.20,246.68 L135.80,247.17 L136.40,246.51 L137.00,246.01 L137.60,245.93 L138.20,247.15 L138.80,245.10 L139.40,246.46 L140.00,244.81 L140.60,245.05 L141.20,246.45 L141.80,248.01 L142.40,249.71 L143.00,250.74 L143.60,250.68 L144.20,252.52 L144.80,253.14 L145.40,254.87 L146.00,256.27 L146.60,257.21 L147.20,257.65 L147.80,259.93 L148.40,261.91 L149.00,263.53 L149.60,265.19 L150.20,267.07 L150.80,269.01 L151.40,269.56 L152.00,271.48 L152.60,274.02 L153.20,275.34 L153.80,277.09 L154.40,278.20 L155.00,279.99 L155.60,279.76 L156.20,280.73 L156.80,281.61 L157.40,282.01 L158.00,283.10 L158.60,283.73 L159.20,284.00 L159.80,284.23 L160.40,284.36 L161.00,284.52 L161.60,284.67 L162.20,284.81 L162.80,284.95" fill="none" stroke="#111" stroke-width="1.4" stroke-dasharray="2.2,1.6" stroke-linejoin="round"/>
<line x1="26.0" y1="228.0" x2="26.0" y2="285.0" stroke="#111" stroke-width="1.1" />
<line x1="26.0" y1="285.0" x2="175.0" y2="285.0" stroke="#111" stroke-width="1.1" />
<line x1="22.8" y1="285.0" x2="26.0" y2="285.0" stroke="#222" stroke-width="0.8" />
<line x1="24.2" y1="282.9642857142857" x2="26.0" y2="282.9642857142857" stroke="#222" stroke-width="0.8" />
<line x1="24.2" y1="280.92857142857144" x2="26.0" y2="280.92857142857144" stroke="#222" stroke-width="0.8" />
<line x1="24.2" y1="278.89285714285717" x2="26.0" y2="278.89285714285717" stroke="#222" stroke-width="0.8" />
<line x1="24.2" y1="276.85714285714283" x2="26.0" y2="276.85714285714283" stroke="#222" stroke-width="0.8" />
<line x1="22.8" y1="274.82142857142856" x2="26.0" y2="274.82142857142856" stroke="#222" stroke-width="0.8" />
<line x1="24.2" y1="272.7857142857143" x2="26.0" y2="272.7857142857143" stroke="#222" stroke-width="0.8" />
<line x1="24.2" y1="270.75" x2="26.0" y2="270.75" stroke="#222" stroke-width="0.8" />
<line x1="24.2" y1="268.7142857142857" x2="26.0" y2="268.7142857142857" stroke="#222" stroke-width="0.8" />
<line x1="24.2" y1="266.67857142857144" x2="26.0" y2="266.67857142857144" stroke="#222" stroke-width="0.8" />
<line x1="22.8" y1="264.64285714285717" x2="26.0" y2="264.64285714285717" stroke="#222" stroke-width="0.8" />
<line x1="24.2" y1="262.60714285714283" x2="26.0" y2="262.60714285714283" stroke="#222" stroke-width="0.8" />
<line x1="24.2" y1="260.57142857142856" x2="26.0" y2="260.57142857142856" stroke="#222" stroke-width="0.8" />
<line x1="24.2" y1="258.5357142857143" x2="26.0" y2="258.5357142857143" stroke="#222" stroke-width="0.8" />
<line x1="24.2" y1="256.5" x2="26.0" y2="256.5" stroke="#222" stroke-width="0.8" />
<line x1="22.8" y1="254.46428571428572" x2="26.0" y2="254.46428571428572" stroke="#222" stroke-width="0.8" />
<line x1="24.2" y1="252.42857142857144" x2="26.0" y2="252.42857142857144" stroke="#222" stroke-width="0.8" />
<line x1="24.2" y1="250.39285714285714" x2="26.0" y2="250.39285714285714" stroke="#222" stroke-width="0.8" />
<line x1="24.2" y1="248.35714285714286" x2="26.0" y2="248.35714285714286" stroke="#222" stroke-width="0.8" />
<line x1="24.2" y1="246.32142857142856" x2="26.0" y2="246.32142857142856" stroke="#222" stroke-width="0.8" />
<line x1="22.8" y1="244.28571428571428" x2="26.0" y2="244.28571428571428" stroke="#222" stroke-width="0.8" />
<line x1="24.2" y1="242.25" x2="26.0" y2="242.25" stroke="#222" stroke-width="0.8" />
<line x1="24.2" y1="240.21428571428572" x2="26.0" y2="240.21428571428572" stroke="#222" stroke-width="0.8" />
<line x1="24.2" y1="238.17857142857144" x2="26.0" y2="238.17857142857144" stroke="#222" stroke-width="0.8" />
<line x1="24.2" y1="236.14285714285714" x2="26.0" y2="236.14285714285714" stroke="#222" stroke-width="0.8" />
<line x1="22.8" y1="234.10714285714286" x2="26.0" y2="234.10714285714286" stroke="#222" stroke-width="0.8" />
<line x1="24.2" y1="232.07142857142856" x2="26.0" y2="232.07142857142856" stroke="#222" stroke-width="0.8" />
<line x1="24.2" y1="230.03571428571428" x2="26.0" y2="230.03571428571428" stroke="#222" stroke-width="0.8" />
<line x1="24.2" y1="228.0" x2="26.0" y2="228.0" stroke="#222" stroke-width="0.8" />
<line x1="26.0" y1="285.0" x2="26.0" y2="288.0" stroke="#111" stroke-width="0.9" />
<line x1="37.07790384043451" y1="285.0" x2="37.07790384043451" y2="287.2" stroke="#111" stroke-width="0.9" />
<line x1="43.55806217368358" y1="285.0" x2="43.55806217368358" y2="287.2" stroke="#111" stroke-width="0.9" />
<line x1="48.15580768086902" y1="285.0" x2="48.15580768086902" y2="287.2" stroke="#111" stroke-width="0.9" />
<line x1="51.722096159565496" y1="285.0" x2="51.722096159565496" y2="287.2" stroke="#111" stroke-width="0.9" />
<line x1="54.63596601411808" y1="285.0" x2="54.63596601411808" y2="287.2" stroke="#111" stroke-width="0.9" />
<line x1="57.09960787252464" y1="285.0" x2="57.09960787252464" y2="287.2" stroke="#111" stroke-width="0.9" />
<line x1="59.23371152130352" y1="285.0" x2="59.23371152130352" y2="287.2" stroke="#111" stroke-width="0.9" />
<line x1="61.116124347367155" y1="285.0" x2="61.116124347367155" y2="287.2" stroke="#111" stroke-width="0.9" />
<line x1="62.8" y1="285.0" x2="62.8" y2="288.0" stroke="#111" stroke-width="0.9" />
<line x1="73.8779038404345" y1="285.0" x2="73.8779038404345" y2="287.2" stroke="#111" stroke-width="0.9" />
<line x1="80.35806217368358" y1="285.0" x2="80.35806217368358" y2="287.2" stroke="#111" stroke-width="0.9" />
<line x1="84.95580768086901" y1="285.0" x2="84.95580768086901" y2="287.2" stroke="#111" stroke-width="0.9" />
<line x1="88.52209615956548" y1="285.0" x2="88.52209615956548" y2="287.2" stroke="#111" stroke-width="0.9" />
<line x1="91.43596601411808" y1="285.0" x2="91.43596601411808" y2="287.2" stroke="#111" stroke-width="0.9" />
<line x1="93.89960787252465" y1="285.0" x2="93.89960787252465" y2="287.2" stroke="#111" stroke-width="0.9" />
<line x1="96.03371152130352" y1="285.0" x2="96.03371152130352" y2="287.2" stroke="#111" stroke-width="0.9" />
<line x1="97.91612434736714" y1="285.0" x2="97.91612434736714" y2="287.2" stroke="#111" stroke-width="0.9" />
<line x1="99.6" y1="285.0" x2="99.6" y2="288.0" stroke="#111" stroke-width="0.9" />
<line x1="110.67790384043451" y1="285.0" x2="110.67790384043451" y2="287.2" stroke="#111" stroke-width="0.9" />
<line x1="117.15806217368358" y1="285.0" x2="117.15806217368358" y2="287.2" stroke="#111" stroke-width="0.9" />
<line x1="121.75580768086901" y1="285.0" x2="121.75580768086901" y2="287.2" stroke="#111" stroke-width="0.9" />
<line x1="125.32209615956548" y1="285.0" x2="125.32209615956548" y2="287.2" stroke="#111" stroke-width="0.9" />
<line x1="128.2359660141181" y1="285.0" x2="128.2359660141181" y2="287.2" stroke="#111" stroke-width="0.9" />
<line x1="130.69960787252467" y1="285.0" x2="130.69960787252467" y2="287.2" stroke="#111" stroke-width="0.9" />
<line x1="132.83371152130354" y1="285.0" x2="132.83371152130354" y2="287.2" stroke="#111" stroke-width="0.9" />
<line x1="134.71612434736716" y1="285.0" x2="134.71612434736716" y2="287.2" stroke="#111" stroke-width="0.9" />
<line x1="136.39999999999998" y1="285.0" x2="136.39999999999998" y2="288.0" stroke="#111" stroke-width="0.9" />
<line x1="147.47790384043452" y1="285.0" x2="147.47790384043452" y2="287.2" stroke="#111" stroke-width="0.9" />
<line x1="153.95806217368357" y1="285.0" x2="153.95806217368357" y2="287.2" stroke="#111" stroke-width="0.9" />
<line x1="158.555807680869" y1="285.0" x2="158.555807680869" y2="287.2" stroke="#111" stroke-width="0.9" />
<line x1="162.12209615956547" y1="285.0" x2="162.12209615956547" y2="287.2" stroke="#111" stroke-width="0.9" />
<line x1="165.0359660141181" y1="285.0" x2="165.0359660141181" y2="287.2" stroke="#111" stroke-width="0.9" />
<line x1="167.49960787252465" y1="285.0" x2="167.49960787252465" y2="287.2" stroke="#111" stroke-width="0.9" />
<line x1="169.63371152130352" y1="285.0" x2="169.63371152130352" y2="287.2" stroke="#111" stroke-width="0.9" />
<line x1="171.51612434736714" y1="285.0" x2="171.51612434736714" y2="287.2" stroke="#111" stroke-width="0.9" />
<line x1="173.2" y1="285.0" x2="173.2" y2="288.0" stroke="#111" stroke-width="0.9" />
<text transform="translate(25.70,296.5) scale(0.76,1)" font-size="7.5" text-anchor="middle" fill="#222">10<tspan dx="0.6" dy="-3.25" font-size="6.5">0</tspan></text>
<text transform="translate(62.50,296.5) scale(0.76,1)" font-size="7.5" text-anchor="middle" fill="#222">10<tspan dx="0.6" dy="-3.25" font-size="6.5">1</tspan></text>
<text transform="translate(99.30,296.5) scale(0.76,1)" font-size="7.5" text-anchor="middle" fill="#222">10<tspan dx="0.6" dy="-3.25" font-size="6.5">2</tspan></text>
<text transform="translate(136.10,296.5) scale(0.76,1)" font-size="7.5" text-anchor="middle" fill="#222">10<tspan dx="0.6" dy="-3.25" font-size="6.5">3</tspan></text>
<text transform="translate(172.90,296.5) scale(0.76,1)" font-size="7.5" text-anchor="middle" fill="#222">10<tspan dx="0.6" dy="-3.25" font-size="6.5">4</tspan></text>
<text x="0" y="0" font-size="6.6" text-anchor="middle" font-weight="normal" fill="#222" transform="translate(13.4,257.7) rotate(-90)">Counts</text>
<text x="0" y="0" font-size="6.4" text-anchor="middle" font-weight="normal" fill="#222" transform="translate(20.4,228.6) rotate(-90)">180</text>
<text x="0" y="0" font-size="6.4" text-anchor="middle" font-weight="normal" fill="#222" transform="translate(20.4,285.0) rotate(-90)">0</text>
<text x="97.4" y="308.7" font-size="7.3" text-anchor="middle" font-weight="bold" fill="#111" textLength="22" lengthAdjust="spacingAndGlyphs">CXCR4</text>
<rect x="189.2" y="159.2" width="24.4" height="5.7" fill="#b4b4b4"/>
<line x1="188.9" y1="171.9" x2="214.2" y2="171.9" stroke="#d8d8d8" stroke-width="1" />
<line x1="188.9" y1="181.6" x2="214.2" y2="181.6" stroke="#aaa" stroke-width="0.8" />
<line x1="188.9" y1="181.6" x2="214.2" y2="181.6" stroke="#777" stroke-width="1" stroke-dasharray="1,2.4"/>
<line x1="188.9" y1="191.5" x2="214.2" y2="191.5" stroke="#111" stroke-width="1.25" />
<line x1="188.9" y1="200.5" x2="214.2" y2="200.5" stroke="#111" stroke-width="1.5" stroke-dasharray="4.9,3.3"/>
<text x="220.3" y="164.3" font-size="7.9" text-anchor="start" font-weight="normal" fill="#111" style="stroke-width:0.32px">I.C</text>
<text x="220.5" y="174.0" font-size="7.9" text-anchor="start" font-weight="normal" fill="#111" style="stroke-width:0.32px">0</text>
<text x="232" y="174.0" font-size="7.9" text-anchor="start" font-weight="normal" fill="#111" style="stroke-width:0.32px">hours</text>
<text x="220.5" y="183.8" font-size="7.9" text-anchor="start" font-weight="normal" fill="#111" style="stroke-width:0.32px">0.5 hours</text>
<text x="220.5" y="193.7" font-size="7.9" text-anchor="start" font-weight="normal" fill="#111" style="stroke-width:0.32px">8</text>
<text x="232" y="193.7" font-size="7.9" text-anchor="start" font-weight="normal" fill="#111" style="stroke-width:0.32px">hours</text>
<text x="220.5" y="203.2" font-size="7.9" text-anchor="start" font-weight="normal" fill="#111" style="stroke-width:0.32px">72</text>
<text x="232" y="203.2" font-size="7.9" text-anchor="start" font-weight="normal" fill="#111" style="stroke-width:0.32px">hours</text>
<text x="271.0" y="143.6" font-size="12.8" text-anchor="start" font-weight="bold" fill="#000" style="stroke:#000;stroke-width:0.45px">C</text>
<line x1="305.5" y1="167.6" x2="305.5" y2="273.1" stroke="#555" stroke-width="1" />
<line x1="305.5" y1="272.6" x2="463.8" y2="272.6" stroke="#555" stroke-width="1" />
<line x1="302.5" y1="272.6" x2="305.5" y2="272.6" stroke="#555" stroke-width="1" />
<text x="301.7" y="275.45000000000005" font-size="8.0" text-anchor="end" font-weight="normal" fill="#333" >0</text>
<line x1="302.5" y1="255.18000000000004" x2="305.5" y2="255.18000000000004" stroke="#555" stroke-width="1" />
<text x="301.7" y="258.03000000000003" font-size="8.0" text-anchor="end" font-weight="normal" fill="#333" >200</text>
<line x1="302.5" y1="237.76000000000002" x2="305.5" y2="237.76000000000002" stroke="#555" stroke-width="1" />
<text x="301.7" y="240.61" font-size="8.0" text-anchor="end" font-weight="normal" fill="#333" >400</text>
<line x1="302.5" y1="220.34000000000003" x2="305.5" y2="220.34000000000003" stroke="#555" stroke-width="1" />
<text x="301.7" y="223.19000000000003" font-size="8.0" text-anchor="end" font-weight="normal" fill="#333" >600</text>
<line x1="302.5" y1="202.92000000000002" x2="305.5" y2="202.92000000000002" stroke="#555" stroke-width="1" />
<text x="301.7" y="205.77" font-size="8.0" text-anchor="end" font-weight="normal" fill="#333" >800</text>
<line x1="302.5" y1="185.50000000000003" x2="305.5" y2="185.50000000000003" stroke="#555" stroke-width="1" />
<text x="301.7" y="188.35000000000002" font-size="8.0" text-anchor="end" font-weight="normal" fill="#333" >1000</text>
<line x1="302.5" y1="168.08000000000004" x2="305.5" y2="168.08000000000004" stroke="#555" stroke-width="1" />
<text x="301.7" y="170.93000000000004" font-size="8.0" text-anchor="end" font-weight="normal" fill="#333" >1200</text>
<line x1="321.1" y1="272.6" x2="321.1" y2="275.6" stroke="#555" stroke-width="1" />
<text x="321.1" y="283.9" font-size="8.1" text-anchor="middle" font-weight="normal" fill="#333" >0</text>
<line x1="352.7" y1="272.6" x2="352.7" y2="275.6" stroke="#555" stroke-width="1" />
<text x="352.7" y="283.9" font-size="8.1" text-anchor="middle" font-weight="normal" fill="#333" >0.5</text>
<line x1="384.3" y1="272.6" x2="384.3" y2="275.6" stroke="#555" stroke-width="1" />
<text x="384.3" y="283.9" font-size="8.1" text-anchor="middle" font-weight="normal" fill="#333" >2</text>
<line x1="416.0" y1="272.6" x2="416.0" y2="275.6" stroke="#555" stroke-width="1" />
<text x="416.0" y="283.9" font-size="8.1" text-anchor="middle" font-weight="normal" fill="#333" >4</text>
<line x1="447.7" y1="272.6" x2="447.7" y2="275.6" stroke="#555" stroke-width="1" />
<text x="447.7" y="283.9" font-size="8.1" text-anchor="middle" font-weight="normal" fill="#333" >8</text>
<text x="383.8" y="303.6" font-size="8.0" text-anchor="middle" font-weight="normal" fill="#333" >Time (hrs)</text>
<text x="0" y="0" font-size="8.9" text-anchor="middle" font-weight="normal" fill="#333" transform="translate(279.9,220.0) rotate(-90)">CXCR4 (MFI)</text>
<text x="314.8" y="177.1" font-size="9.5" text-anchor="start" font-weight="bold" fill="#111" >p=0.046</text>
<polyline points="321.10,245.16 352.70,237.24 384.30,229.05 416.00,197.00" fill="none" stroke="#222" stroke-width="1" />
<polyline points="321.10,249.26 352.70,242.46 384.30,228.61 416.00,204.92 447.70,170.43" fill="none" stroke="#222" stroke-width="1" />
<polyline points="321.10,249.69 352.70,242.29 384.30,231.31 416.00,214.33" fill="none" stroke="#222" stroke-width="1" />
<polyline points="321.10,240.20 384.30,226.35 416.00,210.24" fill="none" stroke="#222" stroke-width="1" />
<polyline points="321.10,246.82 352.70,237.24 384.30,245.69 416.00,245.60 447.70,222.34" fill="none" stroke="#222" stroke-width="1" />
<polyline points="321.10,264.33 352.70,261.54 384.30,260.41 416.00,257.71 447.70,251.52" fill="none" stroke="#222" stroke-width="1" />
<polyline points="321.10,264.33 352.70,261.54 384.30,263.72 416.00,262.58 447.70,259.27" fill="none" stroke="#222" stroke-width="1" />
<circle cx="321.1" cy="245.16350000000003" r="1.45" fill="#222"/>
<circle cx="352.7" cy="237.23740000000004" r="1.45" fill="#222"/>
<circle cx="384.3" cy="229.05" r="1.45" fill="#222"/>
<circle cx="416.0" cy="196.99720000000002" r="1.45" fill="#222"/>
<path d="M321.1,246.9572 L323.285,250.9822 L318.915,250.9822 Z" fill="#fff" stroke="#222" stroke-width="1.25"/>
<path d="M352.7,240.16340000000002 L354.885,244.18840000000003 L350.515,244.18840000000003 Z" fill="#fff" stroke="#222" stroke-width="1.25"/>
<path d="M384.3,226.3145 L386.485,230.33950000000002 L382.115,230.33950000000002 Z" fill="#fff" stroke="#222" stroke-width="1.25"/>
<path d="M416.0,202.62330000000003 L418.185,206.64830000000003 L413.815,206.64830000000003 Z" fill="#fff" stroke="#222" stroke-width="1.25"/>
<path d="M447.7,168.13170000000002 L449.885,172.15670000000003 L445.515,172.15670000000003 Z" fill="#fff" stroke="#222" stroke-width="1.25"/>
<circle cx="321.1" cy="249.69270000000003" r="2.2" fill="#444" stroke="#222" stroke-width="1.0"/>
<circle cx="321.40000000000003" cy="249.99270000000004" r="0.8" fill="#aaa"/>
<circle cx="352.7" cy="242.28920000000002" r="2.2" fill="#444" stroke="#222" stroke-width="1.0"/>
<circle cx="353.0" cy="242.58920000000003" r="0.8" fill="#aaa"/>
<circle cx="384.3" cy="231.31460000000004" r="2.2" fill="#444" stroke="#222" stroke-width="1.0"/>
<circle cx="384.6" cy="231.61460000000005" r="0.8" fill="#aaa"/>
<circle cx="416.0" cy="214.33010000000002" r="2.2" fill="#444" stroke="#222" stroke-width="1.0"/>
<circle cx="416.3" cy="214.63010000000003" r="0.8" fill="#aaa"/>
<rect x="319.70000000000005" y="238.79880000000003" width="2.8" height="2.8" fill="#fff" stroke="#aaa" stroke-width="0.8"/>
<rect x="382.90000000000003" y="224.9499" width="2.8" height="2.8" fill="#fff" stroke="#aaa" stroke-width="0.8"/>
<rect x="414.6" y="208.83640000000003" width="2.8" height="2.8" fill="#fff" stroke="#aaa" stroke-width="0.8"/>
<circle cx="321.1" cy="246.81840000000003" r="1.45" fill="#222"/>
<circle cx="352.7" cy="237.23740000000004" r="1.45" fill="#222"/>
<circle cx="384.3" cy="245.6861" r="1.45" fill="#222"/>
<circle cx="416.0" cy="245.59900000000002" r="1.45" fill="#222"/>
<circle cx="447.7" cy="222.34330000000003" r="1.45" fill="#222"/>
<circle cx="321.1" cy="264.32550000000003" r="2.3" fill="#fff" stroke="#222" stroke-width="1.1"/>
<circle cx="352.7" cy="261.53830000000005" r="2.3" fill="#fff" stroke="#222" stroke-width="1.1"/>
<circle cx="384.3" cy="260.406" r="2.3" fill="#fff" stroke="#222" stroke-width="1.1"/>
<circle cx="416.0" cy="257.70590000000004" r="2.3" fill="#fff" stroke="#222" stroke-width="1.1"/>
<circle cx="447.7" cy="251.5218" r="2.3" fill="#fff" stroke="#222" stroke-width="1.1"/>
<path d="M319.5,262.7255 L322.70000000000005,265.92550000000006 M322.70000000000005,262.7255 L319.5,265.92550000000006" stroke="#222" stroke-width="1.0"/>
<path d="M351.09999999999997,259.9383 L354.3,263.1383000000001 M354.3,259.9383 L351.09999999999997,263.1383000000001" stroke="#222" stroke-width="1.0"/>
<path d="M382.7,262.1158 L385.90000000000003,265.3158 M385.90000000000003,262.1158 L382.7,265.3158" stroke="#222" stroke-width="1.0"/>
<path d="M414.4,260.9835 L417.6,264.18350000000004 M417.6,260.9835 L414.4,264.18350000000004" stroke="#222" stroke-width="1.0"/>
<path d="M446.09999999999997,257.6737 L449.3,260.87370000000004 M449.3,257.6737 L446.09999999999997,260.87370000000004" stroke="#222" stroke-width="1.0"/>
<line x1="474.2" y1="187.0" x2="485.6" y2="187.0" stroke="#666" stroke-width="1" />
<circle cx="479.8" cy="187.0" r="1.305" fill="#222"/>
<text x="492" y="190.1" font-size="9.0" text-anchor="start" font-weight="normal" fill="#222" letter-spacing="0.15">CLL 2</text>
<line x1="474.2" y1="199.0" x2="485.6" y2="199.0" stroke="#666" stroke-width="1" />
<path d="M479.8,196.93 L481.7665,200.5525 L477.8335,200.5525 Z" fill="#fff" stroke="#222" stroke-width="1.125"/>
<text x="492" y="202.1" font-size="9.0" text-anchor="start" font-weight="normal" fill="#222" letter-spacing="0.15">CLL 11</text>
<line x1="474.2" y1="211.0" x2="485.6" y2="211.0" stroke="#666" stroke-width="1" />
<circle cx="479.8" cy="211.0" r="1.9800000000000002" fill="#444" stroke="#222" stroke-width="0.9"/>
<circle cx="480.1" cy="211.3" r="0.7200000000000001" fill="#aaa"/>
<text x="492" y="214.1" font-size="9.0" text-anchor="start" font-weight="normal" fill="#222" letter-spacing="0.15">CLL 13</text>
<line x1="474.2" y1="223.0" x2="485.6" y2="223.0" stroke="#666" stroke-width="1" />
<rect x="478.54" y="221.74" width="2.52" height="2.52" fill="#fff" stroke="#aaa" stroke-width="0.7200000000000001"/>
<text x="492" y="226.1" font-size="9.0" text-anchor="start" font-weight="normal" fill="#222" letter-spacing="0.15">CLL 17</text>
<line x1="474.2" y1="235.0" x2="485.6" y2="235.0" stroke="#666" stroke-width="1" />
<circle cx="479.8" cy="235.0" r="1.305" fill="#222"/>
<text x="492" y="238.1" font-size="9.0" text-anchor="start" font-weight="normal" fill="#222" letter-spacing="0.15">CLL 24</text>
<line x1="474.2" y1="247.0" x2="485.6" y2="247.0" stroke="#666" stroke-width="1" />
<circle cx="479.8" cy="247.0" r="2.07" fill="#fff" stroke="#222" stroke-width="0.9900000000000001"/>
<text x="492" y="250.1" font-size="9.0" text-anchor="start" font-weight="normal" fill="#222" letter-spacing="0.15">CLL 26</text>
<line x1="474.2" y1="259.0" x2="485.6" y2="259.0" stroke="#666" stroke-width="1" />
<path d="M478.36,257.56 L481.24,260.44 M481.24,257.56 L478.36,260.44" stroke="#222" stroke-width="0.9"/>
<text x="492" y="262.1" font-size="9.0" text-anchor="start" font-weight="normal" fill="#222" letter-spacing="0.15">CLL 27</text>
</svg>
</body></html>
